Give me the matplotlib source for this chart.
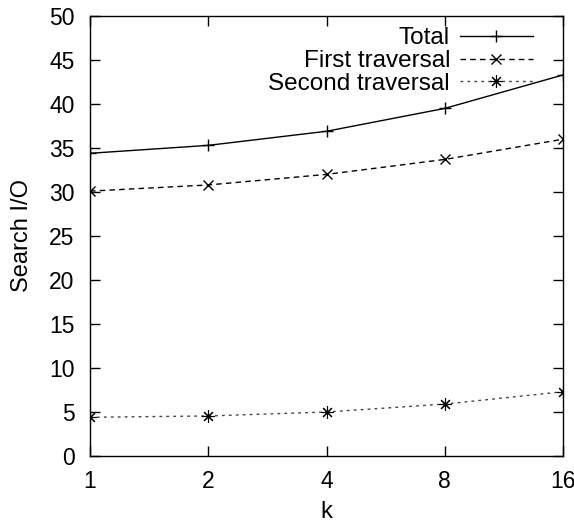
import matplotlib
matplotlib.use('Agg')
import matplotlib.pyplot as plt

# search cost per k
k = [1, 2, 4, 8, 16]
total = [34.4, 35.3, 36.9, 39.5, 43.3]
first = [30.1, 30.8, 32.0, 33.7, 36.0]
second = [4.4, 4.55, 5.0, 5.9, 7.3]

plt.rcParams['font.family'] = ['Liberation Sans', 'DejaVu Sans']
plt.rcParams['font.size'] = 17

fig = plt.figure(figsize=(5.74, 5.29), dpi=100)
ax = fig.add_axes([90/574, 1 - 456/529, (563-90)/574, (456-16)/529])

pos = list(range(len(k)))
ax.plot(pos, total, color='black', lw=1, marker='+', ms=9, mew=1, label='Total')
ax.plot(pos, first, color='black', lw=1, ls=(0, (4, 3)), marker='x', ms=7, mew=1,
        label='First traversal')
ax.plot(pos, second, color='#444444', lw=1, ls=(0, (2, 3)), marker=(8, 2, 0), ms=9,
        mew=0.8, mec='black', label='Second traversal')

ax.set_xlim(0, len(k) - 1)
ax.set_ylim(0, 50)
ax.set_xticks(pos)
ax.set_xticklabels([str(v) for v in k])
ax.set_yticks(range(0, 51, 5))
ax.tick_params(direction='in', top=True, right=True, length=7, width=1, labelsize=16.5)
ax.tick_params(axis='x', pad=10)
ax.tick_params(axis='y', pad=11)
for s in ax.spines.values():
    s.set_linewidth(1)
ax.set_xlabel('k', labelpad=6)
ax.set_ylabel('Search I/O', labelpad=12)

leg = ax.legend(loc='upper right', bbox_to_anchor=(1 - 23/473, 1 - 4/440),
                frameon=False, markerfirst=False, handlelength=3.0,
                borderaxespad=0, borderpad=0.3, handletextpad=0.4, labelspacing=0.03,
                fontsize=17.5)

fig.savefig('out.png', dpi=100)
